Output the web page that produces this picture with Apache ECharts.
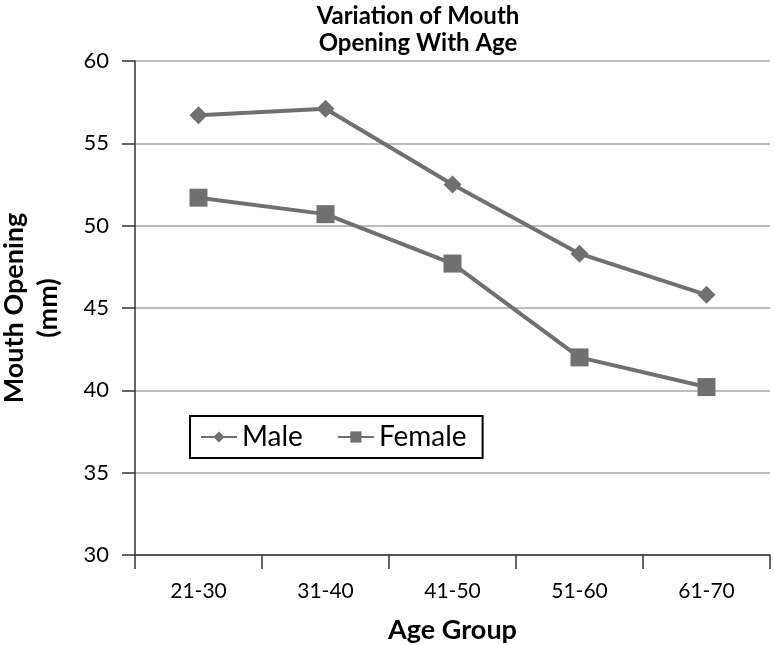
<!DOCTYPE html>
<html><head><meta charset="utf-8">
<script src="https://cdn.jsdelivr.net/npm/echarts@6/dist/echarts.min.js"></script>
<style>html,body{margin:0;padding:0;background:#fff}#c{width:774px;height:645px}</style>
</head><body><div id="c"></div>
<script>
const categories = ['21-30','31-40','41-50','51-60','61-70'];
const male = [56.7, 57.1, 52.5, 48.3, 45.8];
const female = [51.7, 50.7, 47.7, 42.0, 40.2];
const yTicks = {min: 30, max: 60, interval: 5};
const FONT = 'Lato';
const chart = echarts.init(document.getElementById('c'));
chart.setOption({
  animation: false,
  title: {
    text: 'Variation of Mouth\nOpening With Age',
    left: 413, top: -2, textAlign: 'center',
    textStyle: {fontFamily: FONT, fontWeight: 'bold', fontSize: 24, lineHeight: 27, color: '#000'}
  },
  grid: {left: 135, right: 4, top: 61, bottom: 90, outerBoundsMode: 'none'},
  legend: {
    left: 190, top: 416,
    backgroundColor: '#fff', borderColor: '#000', borderWidth: 2,
    padding: [7, 16, 7, 10],
    itemGap: 34, itemWidth: 36, itemHeight: 14,
    textStyle: {fontFamily: FONT, fontSize: 28, color: '#000'},
    data: ['Male', 'Female']
  },
  xAxis: {
    type: 'category', data: categories, boundaryGap: true,
    name: 'Age Group', nameLocation: 'middle', nameGap: 62,
    nameTextStyle: {fontFamily: FONT, fontWeight: 'bold', fontSize: 27, color: '#000'},
    axisLine: {lineStyle: {color: '#333', width: 1.5}},
    axisTick: {show: true, length: 14, lineStyle: {color: '#333', width: 1.5}},
    axisLabel: {fontFamily: FONT, fontSize: 21, color: '#000', margin: 26}
  },
  yAxis: {
    type: 'value', min: yTicks.min, max: yTicks.max, interval: yTicks.interval,
    name: 'Mouth Opening\n(mm)', nameLocation: 'middle', nameGap: 70,
    nameTextStyle: {fontFamily: FONT, fontWeight: 'bold', fontSize: 27, lineHeight: 34, color: '#000'},
    axisLine: {show: true, lineStyle: {color: '#333', width: 1.5}},
    axisTick: {show: true, length: 13, lineStyle: {color: '#333', width: 1.5}},
    axisLabel: {fontFamily: FONT, fontSize: 22, color: '#000', margin: 26},
    splitLine: {lineStyle: {color: '#a6a6a6', width: 1.5}}
  },
  series: [
    {name: 'Male', type: 'line', data: male, symbol: 'diamond', symbolSize: 18,
     lineStyle: {color: '#707070', width: 4}, itemStyle: {color: '#707070'}},
    {name: 'Female', type: 'line', data: female, symbol: 'rect', symbolSize: 18,
     lineStyle: {color: '#707070', width: 4}, itemStyle: {color: '#707070'}}
  ]
});
</script></body></html>
